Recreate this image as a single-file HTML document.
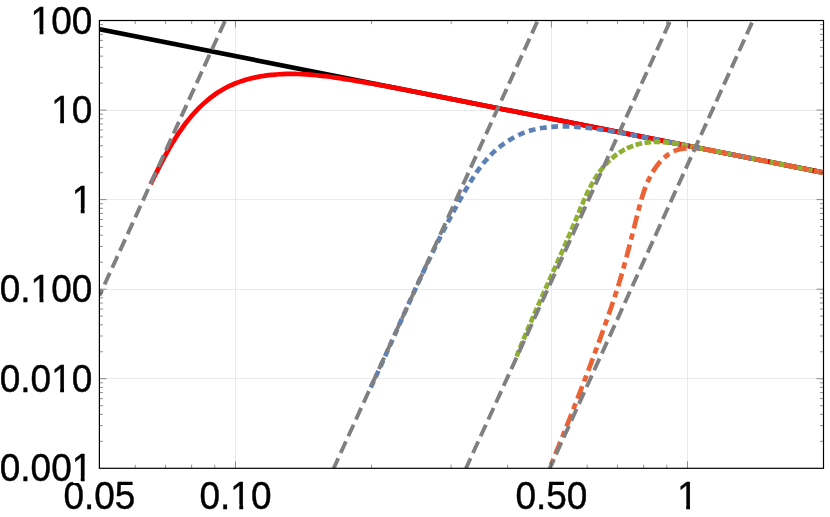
<!DOCTYPE html>
<html><head><meta charset="utf-8"><title>plot</title>
<style>html,body{margin:0;padding:0;background:#fff;overflow:hidden}body{width:830px;height:517px;position:relative;font-family:"Liberation Sans",sans-serif}</style>
</head><body>
<svg width="830" height="517" viewBox="0 0 830 517" style="position:absolute;left:0;top:0;will-change:transform">
<rect width="830" height="517" fill="#fff"/>
<defs><clipPath id="c"><rect x="99.40" y="20.50" width="724.10" height="447.80"/></clipPath></defs>
<line x1="235.50" y1="20.50" x2="235.50" y2="468.30" stroke="#eaeaea" stroke-width="1"/>
<line x1="551.50" y1="20.50" x2="551.50" y2="468.30" stroke="#eaeaea" stroke-width="1"/>
<line x1="687.50" y1="20.50" x2="687.50" y2="468.30" stroke="#eaeaea" stroke-width="1"/>
<line x1="99.40" y1="110.50" x2="823.50" y2="110.50" stroke="#eaeaea" stroke-width="1"/>
<line x1="99.40" y1="199.50" x2="823.50" y2="199.50" stroke="#eaeaea" stroke-width="1"/>
<line x1="99.40" y1="289.50" x2="823.50" y2="289.50" stroke="#eaeaea" stroke-width="1"/>
<line x1="99.40" y1="378.50" x2="823.50" y2="378.50" stroke="#eaeaea" stroke-width="1"/>
<g clip-path="url(#c)" fill="none" stroke-linejoin="round">
<line x1="96.40" y1="28.58" x2="826.50" y2="173.25" stroke="#000" stroke-width="4.7"/>
<path d="M150.61 184.10 C150.89 183.53 151.73 181.84 152.30 180.70 C152.86 179.57 153.43 178.42 154.00 177.27 C154.57 176.13 155.15 174.97 155.73 173.82 C156.31 172.66 156.90 171.50 157.48 170.34 C158.07 169.18 158.67 168.01 159.27 166.84 C159.87 165.67 160.47 164.50 161.08 163.33 C161.69 162.16 162.31 160.99 162.93 159.82 C163.55 158.65 164.18 157.47 164.81 156.30 C165.45 155.13 166.09 153.96 166.74 152.79 C167.39 151.62 168.05 150.45 168.71 149.29 C169.38 148.12 170.05 146.96 170.73 145.80 C171.41 144.64 172.10 143.49 172.80 142.34 C173.50 141.19 174.20 140.04 174.92 138.90 C175.64 137.76 176.36 136.62 177.10 135.49 C177.83 134.36 178.58 133.24 179.34 132.12 C180.09 131.01 180.86 129.90 181.64 128.80 C182.42 127.70 183.21 126.60 184.01 125.52 C184.81 124.44 185.62 123.36 186.45 122.30 C187.27 121.23 188.11 120.18 188.96 119.13 C189.81 118.09 190.67 117.06 191.54 116.03 C192.42 115.01 193.31 114.00 194.21 113.00 C195.11 112.01 196.03 111.02 196.96 110.05 C197.89 109.08 198.83 108.12 199.79 107.18 C200.75 106.24 201.73 105.31 202.71 104.40 C203.70 103.48 204.70 102.59 205.72 101.71 C206.73 100.83 207.76 99.97 208.80 99.12 C209.85 98.28 210.90 97.45 211.97 96.65 C213.04 95.84 214.12 95.06 215.22 94.29 C216.31 93.53 217.42 92.78 218.54 92.06 C219.67 91.34 220.80 90.64 221.95 89.97 C223.09 89.29 224.25 88.64 225.42 88.01 C226.59 87.38 227.78 86.78 228.97 86.20 C230.17 85.62 231.38 85.07 232.59 84.54 C233.81 84.01 235.03 83.51 236.27 83.03 C237.51 82.54 238.75 82.08 240.00 81.65 C241.26 81.21 242.52 80.79 243.78 80.40 C245.05 80.00 246.32 79.63 247.60 79.28 C248.88 78.93 250.17 78.59 251.46 78.28 C252.74 77.97 254.04 77.67 255.33 77.40 C256.63 77.12 257.93 76.87 259.23 76.63 C260.53 76.39 261.84 76.17 263.14 75.96 C264.44 75.76 265.75 75.57 267.05 75.40 C268.36 75.22 269.66 75.07 270.97 74.93 C272.27 74.79 273.58 74.66 274.88 74.55 C276.19 74.44 277.49 74.35 278.80 74.26 C280.10 74.18 281.41 74.11 282.71 74.06 C284.02 74.00 285.32 73.96 286.63 73.94 C287.94 73.91 289.24 73.89 290.55 73.89 C291.85 73.88 293.16 73.89 294.46 73.91 C295.77 73.93 297.07 73.97 298.38 74.01 C299.69 74.05 300.99 74.10 302.30 74.17 C303.60 74.23 304.91 74.31 306.21 74.39 C307.52 74.47 308.83 74.57 310.13 74.67 C311.44 74.77 312.74 74.88 314.05 75.00 C315.36 75.12 316.66 75.24 317.97 75.38 C319.27 75.51 320.58 75.66 321.89 75.81 C323.19 75.95 324.50 76.11 325.80 76.27 C327.11 76.44 328.42 76.61 329.72 76.78 C331.03 76.95 332.33 77.14 333.64 77.32 C334.95 77.51 336.25 77.70 337.56 77.89 C338.86 78.09 340.17 78.29 341.48 78.49 C342.78 78.69 344.09 78.90 345.39 79.11 C346.70 79.32 348.01 79.53 349.31 79.75 C350.62 79.96 351.92 80.18 353.23 80.40 C354.54 80.62 355.84 80.84 357.15 81.06 C358.45 81.29 359.76 81.51 361.06 81.74 C362.37 81.96 363.68 82.19 364.98 82.42 C366.29 82.65 367.59 82.88 368.90 83.11 C370.20 83.34 371.51 83.57 372.81 83.81 C374.12 84.04 375.42 84.27 376.73 84.51 C378.04 84.75 379.34 84.98 380.65 85.22 C381.95 85.46 383.26 85.70 384.56 85.94 C385.87 86.18 387.17 86.42 388.47 86.67 C389.78 86.91 391.08 87.15 392.39 87.40 C393.69 87.64 395.00 87.89 396.30 88.13 C397.61 88.38 398.91 88.63 400.22 88.88 C401.52 89.12 402.82 89.37 404.13 89.62 C405.43 89.87 406.74 90.13 408.04 90.38 C409.34 90.62 410.65 90.86 411.95 91.11 C413.25 91.36 414.56 91.63 415.86 91.89 C417.16 92.14 418.47 92.40 419.77 92.66 C421.07 92.92 422.38 93.18 423.68 93.44 C424.98 93.69 426.28 93.95 427.59 94.21 C428.89 94.47 430.19 94.73 431.49 94.98 C432.80 95.24 434.10 95.50 435.40 95.76 C436.70 96.02 438.00 96.27 439.31 96.53 C440.61 96.79 441.91 97.05 443.21 97.31 C444.51 97.56 383.23 85.42 447.11 98.08 C511.00 110.74 763.27 160.72 826.50 173.25" stroke="#ff0000" stroke-width="4.7"/>
<path d="M370.80 387.40 C371.09 386.79 371.94 384.95 372.51 383.73 C373.08 382.51 373.65 381.29 374.21 380.07 C374.78 378.84 375.35 377.62 375.91 376.40 C376.47 375.18 377.03 373.96 377.59 372.74 C378.15 371.52 378.71 370.30 379.27 369.08 C379.83 367.86 380.38 366.64 380.94 365.42 C381.49 364.20 382.05 362.99 382.60 361.77 C383.15 360.55 383.70 359.33 384.25 358.11 C384.81 356.90 385.36 355.68 385.90 354.46 C386.45 353.25 387.00 352.03 387.55 350.82 C388.10 349.60 388.64 348.39 389.19 347.17 C389.73 345.96 390.28 344.74 390.82 343.53 C391.37 342.32 391.91 341.10 392.46 339.89 C393.00 338.68 393.54 337.46 394.09 336.25 C394.63 335.04 395.17 333.83 395.71 332.62 C396.25 331.41 396.80 330.20 397.34 328.98 C397.88 327.77 398.42 326.56 398.96 325.35 C399.50 324.15 400.05 322.94 400.59 321.73 C401.13 320.52 401.67 319.31 402.21 318.10 C402.75 316.90 403.29 315.69 403.84 314.48 C404.38 313.27 404.92 312.07 405.46 310.86 C406.00 309.66 406.55 308.45 407.09 307.25 C407.63 306.04 408.18 304.84 408.72 303.63 C409.26 302.43 409.81 301.22 410.35 300.02 C410.90 298.82 411.45 297.62 411.99 296.41 C412.54 295.21 413.09 294.01 413.63 292.81 C414.18 291.61 414.73 290.41 415.28 289.21 C415.83 288.01 416.38 286.81 416.93 285.61 C417.48 284.41 418.04 283.21 418.59 282.01 C419.14 280.81 419.70 279.61 420.26 278.42 C420.81 277.22 421.37 276.02 421.93 274.82 C422.49 273.63 423.05 272.43 423.61 271.24 C424.17 270.04 424.73 268.85 425.30 267.65 C425.86 266.46 426.43 265.26 426.99 264.07 C427.56 262.88 428.13 261.68 428.70 260.49 C429.27 259.30 429.84 258.11 430.42 256.92 C430.99 255.72 431.57 254.53 432.15 253.34 C432.73 252.15 433.30 250.96 433.89 249.77 C434.47 248.58 435.05 247.39 435.64 246.21 C436.22 245.02 436.81 243.83 437.40 242.64 C437.99 241.45 438.59 240.27 439.18 239.08 C439.78 237.90 440.37 236.71 440.97 235.52 C441.57 234.34 442.17 233.15 442.78 231.97 C443.38 230.79 443.99 229.60 444.60 228.42 C445.21 227.24 445.82 226.05 446.43 224.87 C447.05 223.69 447.67 222.51 448.29 221.33 C448.91 220.15 449.53 218.97 450.16 217.79 C450.78 216.61 451.41 215.43 452.04 214.25 C452.67 213.07 453.31 211.89 453.95 210.71 C454.59 209.54 455.23 208.36 455.87 207.18 C456.51 206.01 457.16 204.83 457.81 203.65 C458.46 202.48 459.12 201.30 459.77 200.13 C460.43 198.96 461.09 197.78 461.76 196.61 C462.42 195.44 463.09 194.26 463.76 193.09 C464.43 191.92 465.11 190.75 465.79 189.58 C466.47 188.42 467.16 187.25 467.85 186.09 C468.55 184.93 469.24 183.77 469.95 182.62 C470.66 181.47 471.38 180.33 472.10 179.19 C472.83 178.05 473.56 176.92 474.30 175.80 C475.05 174.68 475.80 173.56 476.57 172.46 C477.33 171.35 478.11 170.26 478.90 169.17 C479.69 168.09 480.49 167.01 481.30 165.95 C482.12 164.89 482.95 163.84 483.79 162.81 C484.64 161.77 485.49 160.75 486.37 159.75 C487.24 158.74 488.13 157.75 489.04 156.77 C489.95 155.80 490.87 154.84 491.82 153.90 C492.76 152.96 493.72 152.04 494.70 151.14 C495.69 150.23 496.69 149.35 497.71 148.49 C498.73 147.62 499.77 146.78 500.82 145.96 C501.88 145.14 502.95 144.34 504.04 143.56 C505.13 142.79 506.23 142.03 507.35 141.31 C508.47 140.58 509.60 139.88 510.74 139.20 C511.89 138.52 513.04 137.87 514.21 137.25 C515.37 136.62 516.55 136.03 517.73 135.46 C518.92 134.89 520.11 134.35 521.31 133.85 C522.51 133.34 523.72 132.86 524.93 132.41 C526.15 131.96 527.37 131.54 528.59 131.15 C529.82 130.76 531.05 130.40 532.29 130.06 C533.53 129.72 534.77 129.41 536.02 129.13 C537.27 128.84 538.52 128.58 539.78 128.35 C541.04 128.11 542.31 127.90 543.57 127.71 C544.84 127.52 546.12 127.35 547.40 127.21 C548.67 127.06 549.96 126.94 551.24 126.83 C552.53 126.73 553.82 126.64 555.12 126.57 C556.41 126.51 557.71 126.46 559.01 126.43 C560.31 126.39 561.62 126.38 562.93 126.38 C564.24 126.38 565.55 126.40 566.86 126.43 C568.18 126.46 569.50 126.50 570.82 126.56 C572.14 126.61 573.46 126.69 574.79 126.77 C576.11 126.85 577.44 126.94 578.77 127.04 C580.10 127.15 581.43 127.26 582.76 127.38 C584.09 127.50 585.43 127.64 586.76 127.78 C588.10 127.92 589.43 128.07 590.77 128.22 C592.11 128.38 593.45 128.55 594.79 128.72 C596.13 128.89 597.47 129.07 598.81 129.26 C600.15 129.45 601.49 129.64 602.83 129.84 C604.17 130.04 605.51 130.25 606.85 130.46 C608.19 130.67 609.53 130.89 610.86 131.11 C612.20 131.33 613.54 131.56 614.88 131.79 C616.22 132.02 617.55 132.25 618.89 132.48 C620.22 132.72 621.56 132.96 622.89 133.20 C624.22 133.44 625.55 133.68 626.88 133.92 C628.21 134.16 629.54 134.41 630.86 134.65 C632.19 134.90 633.51 135.14 634.83 135.39 C636.15 135.64 637.47 135.89 638.79 136.14 C640.11 136.38 641.43 136.64 642.74 136.89 C644.06 137.13 645.38 137.37 646.69 137.62 C648.00 137.88 649.31 138.14 650.63 138.40 C651.94 138.66 653.25 138.92 654.56 139.18 C655.87 139.44 657.17 139.70 658.48 139.96 C659.79 140.22 661.10 140.48 662.40 140.74 C663.71 141.00 665.01 141.26 666.32 141.51 C667.62 141.77 668.93 142.03 670.23 142.29 C671.53 142.55 672.84 142.81 674.14 143.06 C675.44 143.32 676.74 143.58 678.04 143.84 C679.35 144.10 657.21 139.71 681.95 144.61 C706.69 149.51 802.41 168.48 826.50 173.25" stroke="#5e81b5" stroke-width="4.7" stroke-dasharray="6.8 4.6"/>
<path d="M516.60 356.50 C516.85 355.87 517.60 353.98 518.11 352.72 C518.61 351.46 519.11 350.21 519.62 348.95 C520.13 347.70 520.63 346.45 521.14 345.21 C521.65 343.96 522.16 342.72 522.67 341.48 C523.19 340.24 523.70 339.00 524.22 337.76 C524.73 336.53 525.25 335.29 525.76 334.06 C526.28 332.83 526.80 331.60 527.32 330.37 C527.84 329.15 528.36 327.92 528.88 326.70 C529.41 325.47 529.93 324.25 530.45 323.03 C530.98 321.81 531.50 320.60 532.03 319.38 C532.56 318.16 533.08 316.95 533.61 315.74 C534.14 314.52 534.67 313.31 535.20 312.10 C535.73 310.89 536.26 309.68 536.79 308.47 C537.32 307.27 537.86 306.06 538.39 304.85 C538.92 303.65 539.46 302.44 539.99 301.24 C540.52 300.03 541.06 298.83 541.59 297.63 C542.13 296.42 542.66 295.22 543.20 294.02 C543.74 292.82 544.27 291.62 544.81 290.42 C545.35 289.21 545.88 288.01 546.42 286.81 C546.96 285.61 547.50 284.41 548.03 283.21 C548.57 282.01 549.11 280.81 549.65 279.61 C550.19 278.41 550.72 277.21 551.26 276.01 C551.80 274.80 552.34 273.60 552.88 272.40 C553.41 271.20 553.95 270.00 554.49 268.79 C555.03 267.59 555.57 266.39 556.10 265.18 C556.64 263.98 557.18 262.77 557.72 261.56 C558.25 260.36 558.79 259.15 559.33 257.94 C559.86 256.73 560.40 255.52 560.94 254.31 C561.47 253.10 562.01 251.88 562.54 250.67 C563.08 249.46 563.61 248.24 564.15 247.02 C564.68 245.80 565.21 244.59 565.75 243.36 C566.28 242.14 566.81 240.92 567.34 239.70 C567.87 238.47 568.40 237.25 568.93 236.02 C569.46 234.79 569.99 233.56 570.52 232.32 C571.05 231.09 571.57 229.85 572.10 228.62 C572.62 227.38 573.15 226.14 573.67 224.90 C574.20 223.65 574.72 222.41 575.24 221.16 C575.76 219.91 576.28 218.66 576.80 217.40 C577.32 216.15 577.84 214.89 578.36 213.64 C578.88 212.38 579.40 211.12 579.92 209.86 C580.45 208.60 580.97 207.35 581.50 206.09 C582.03 204.84 582.57 203.58 583.11 202.33 C583.65 201.09 584.19 199.84 584.75 198.60 C585.30 197.36 585.86 196.13 586.43 194.90 C587.00 193.67 587.58 192.45 588.17 191.24 C588.77 190.03 589.37 188.83 589.98 187.64 C590.60 186.44 591.22 185.26 591.87 184.09 C592.51 182.92 593.17 181.76 593.84 180.62 C594.51 179.47 595.20 178.34 595.91 177.23 C596.62 176.11 597.34 175.01 598.08 173.93 C598.83 172.84 599.59 171.77 600.38 170.72 C601.16 169.68 601.97 168.64 602.80 167.63 C603.63 166.62 604.48 165.63 605.36 164.66 C606.23 163.69 607.13 162.74 608.06 161.82 C608.99 160.89 609.94 159.99 610.92 159.11 C611.90 158.24 612.91 157.39 613.93 156.56 C614.96 155.74 616.01 154.94 617.09 154.18 C618.16 153.41 619.26 152.68 620.37 151.97 C621.49 151.27 622.63 150.59 623.78 149.96 C624.94 149.32 626.12 148.72 627.32 148.15 C628.51 147.58 629.73 147.05 630.96 146.56 C632.18 146.07 633.43 145.61 634.68 145.20 C635.94 144.79 637.21 144.42 638.48 144.09 C639.75 143.76 641.03 143.48 642.32 143.23 C643.61 142.98 644.90 142.78 646.20 142.60 C647.50 142.43 648.81 142.30 650.12 142.20 C651.42 142.09 652.74 142.03 654.05 141.99 C655.37 141.95 656.68 141.94 658.00 141.96 C659.32 141.97 660.64 142.02 661.96 142.09 C663.28 142.16 664.60 142.25 665.92 142.36 C667.24 142.47 668.55 142.61 669.87 142.76 C671.18 142.91 672.50 143.08 673.81 143.26 C675.13 143.44 676.44 143.64 677.75 143.86 C679.07 144.07 680.38 144.31 681.69 144.56 C683.00 144.81 684.31 145.08 685.62 145.34 C686.93 145.60 688.24 145.86 689.54 146.12 C690.85 146.38 692.16 146.63 693.47 146.89 C694.77 147.15 696.08 147.41 697.38 147.67 C698.69 147.93 700.00 148.19 701.30 148.45 C702.61 148.70 703.91 148.96 705.21 149.22 C706.52 149.48 707.82 149.74 709.13 150.00 C710.43 150.25 711.73 150.51 713.04 150.77 C714.34 151.03 698.04 147.80 716.95 151.55 C735.86 155.29 808.24 169.64 826.50 173.25" stroke="#8fb032" stroke-width="4.7" stroke-dasharray="6.7 2.5"/>
<path d="M549.00 470.00 C549.25 469.39 549.99 467.55 550.49 466.32 C550.99 465.10 551.48 463.87 551.98 462.65 C552.48 461.42 552.97 460.20 553.47 458.97 C553.97 457.74 554.46 456.51 554.96 455.29 C555.45 454.06 555.95 452.83 556.44 451.60 C556.94 450.38 557.43 449.15 557.93 447.92 C558.42 446.69 558.92 445.46 559.41 444.23 C559.90 443.00 560.40 441.77 560.89 440.54 C561.38 439.31 561.88 438.08 562.37 436.85 C562.86 435.62 563.36 434.39 563.85 433.16 C564.34 431.93 564.83 430.69 565.32 429.46 C565.81 428.23 566.30 427.00 566.79 425.76 C567.28 424.53 567.77 423.30 568.26 422.06 C568.75 420.83 569.24 419.60 569.73 418.36 C570.22 417.13 570.70 415.89 571.19 414.66 C571.68 413.43 572.16 412.19 572.65 410.95 C573.14 409.72 573.62 408.48 574.11 407.25 C574.59 406.01 575.07 404.78 575.56 403.54 C576.04 402.30 576.52 401.07 577.01 399.83 C577.49 398.59 577.97 397.35 578.45 396.12 C578.93 394.88 579.41 393.64 579.89 392.40 C580.37 391.16 580.85 389.92 581.33 388.68 C581.81 387.45 582.28 386.21 582.76 384.97 C583.24 383.73 583.71 382.49 584.19 381.25 C584.66 380.01 585.14 378.77 585.61 377.53 C586.08 376.28 586.56 375.04 587.03 373.80 C587.50 372.56 587.97 371.32 588.44 370.08 C588.91 368.83 589.38 367.59 589.85 366.35 C590.32 365.11 590.79 363.86 591.25 362.62 C591.72 361.38 592.18 360.14 592.65 358.89 C593.11 357.65 593.58 356.40 594.04 355.16 C594.50 353.92 594.96 352.67 595.42 351.43 C595.88 350.18 596.34 348.94 596.80 347.69 C597.26 346.45 597.72 345.20 598.18 343.96 C598.63 342.71 599.09 341.46 599.54 340.22 C600.00 338.97 600.45 337.72 600.90 336.48 C601.35 335.23 601.81 333.98 602.25 332.74 C602.70 331.49 603.15 330.24 603.60 328.99 C604.05 327.75 604.50 326.50 604.94 325.25 C605.39 324.00 605.83 322.75 606.27 321.50 C606.71 320.25 607.15 319.01 607.59 317.76 C608.03 316.51 608.47 315.26 608.90 314.01 C609.34 312.76 609.77 311.50 610.20 310.25 C610.63 309.00 611.06 307.75 611.49 306.50 C611.91 305.25 612.34 303.99 612.76 302.74 C613.18 301.49 613.60 300.23 614.01 298.98 C614.43 297.72 614.84 296.47 615.25 295.21 C615.66 293.96 616.06 292.70 616.47 291.44 C616.87 290.18 617.27 288.93 617.66 287.67 C618.06 286.41 618.45 285.15 618.84 283.89 C619.23 282.63 619.61 281.37 619.99 280.11 C620.37 278.84 620.74 277.58 621.12 276.32 C621.49 275.05 621.86 273.79 622.22 272.52 C622.58 271.26 622.94 269.99 623.30 268.73 C623.66 267.46 624.01 266.19 624.36 264.92 C624.72 263.65 625.06 262.38 625.41 261.11 C625.75 259.84 626.10 258.56 626.44 257.29 C626.78 256.02 627.12 254.74 627.45 253.47 C627.79 252.19 628.12 250.91 628.46 249.63 C628.79 248.35 629.12 247.07 629.45 245.79 C629.78 244.51 630.11 243.23 630.44 241.95 C630.77 240.66 631.09 239.38 631.42 238.09 C631.75 236.81 632.07 235.52 632.40 234.23 C632.73 232.94 633.05 231.65 633.38 230.36 C633.70 229.06 634.03 227.77 634.36 226.48 C634.68 225.18 635.01 223.88 635.34 222.59 C635.66 221.29 635.99 219.99 636.32 218.69 C636.65 217.39 636.98 216.08 637.32 214.78 C637.65 213.47 637.98 212.17 638.32 210.86 C638.65 209.55 638.99 208.24 639.34 206.94 C639.68 205.63 640.03 204.32 640.39 203.02 C640.75 201.71 641.12 200.41 641.50 199.11 C641.88 197.81 642.27 196.52 642.68 195.23 C643.08 193.94 643.50 192.66 643.94 191.39 C644.38 190.11 644.83 188.84 645.31 187.58 C645.78 186.33 646.27 185.07 646.79 183.84 C647.31 182.60 647.84 181.37 648.41 180.15 C648.98 178.94 649.56 177.73 650.18 176.54 C650.80 175.35 651.45 174.18 652.13 173.02 C652.81 171.86 653.51 170.71 654.26 169.58 C655.00 168.46 655.78 167.34 656.59 166.25 C657.41 165.16 658.26 164.09 659.14 163.05 C660.03 162.01 660.95 160.99 661.90 160.02 C662.85 159.04 663.83 158.10 664.83 157.22 C665.84 156.34 666.88 155.50 667.93 154.73 C668.99 153.96 670.08 153.25 671.18 152.61 C672.28 151.97 673.41 151.40 674.55 150.92 C675.69 150.43 676.85 150.04 678.03 149.70 C679.20 149.36 680.39 149.11 681.59 148.89 C682.79 148.68 684.00 148.52 685.22 148.40 C686.44 148.28 687.67 148.20 688.91 148.15 C690.14 148.11 691.39 148.10 692.64 148.13 C693.89 148.15 695.15 148.21 696.41 148.29 C697.68 148.37 698.95 148.49 700.22 148.62 C701.50 148.76 702.78 148.91 704.07 149.10 C705.35 149.29 706.64 149.52 707.93 149.76 C709.23 150.00 710.52 150.27 711.82 150.53 C713.12 150.79 714.42 151.05 715.73 151.30 C717.03 151.56 718.33 151.82 719.64 152.08 C720.94 152.34 722.25 152.60 723.56 152.86 C724.86 153.11 726.17 153.37 727.47 153.63 C728.78 153.89 730.08 154.15 731.38 154.41 C732.69 154.66 733.99 154.92 735.29 155.18 C736.59 155.44 737.89 155.70 739.19 155.95 C740.49 156.21 728.54 153.84 743.09 156.73 C757.65 159.61 812.60 170.50 826.50 173.25" stroke="#eb6235" stroke-width="4.7" stroke-dasharray="6.4 5.1 13.3 5.1" stroke-dashoffset="24.4"/>
<line x1="99.40" y1="295.80" x2="225.20" y2="20.50" stroke="#808080" stroke-width="3.9" stroke-dasharray="12.7 5.75" stroke-dashoffset="6.00"/>
<line x1="333.70" y1="468.30" x2="537.80" y2="20.50" stroke="#808080" stroke-width="3.9" stroke-dasharray="12.7 5.75" stroke-dashoffset="1.70"/>
<line x1="466.00" y1="468.30" x2="670.40" y2="20.50" stroke="#808080" stroke-width="3.9" stroke-dasharray="12.7 5.75" stroke-dashoffset="1.70"/>
<line x1="549.70" y1="468.30" x2="753.00" y2="20.50" stroke="#808080" stroke-width="3.9" stroke-dasharray="12.7 5.75" stroke-dashoffset="3.00"/>
</g>
<line x1="235.46" y1="468.30" x2="235.46" y2="461.30" stroke="#444" stroke-width="0.6"/>
<line x1="235.46" y1="20.50" x2="235.46" y2="27.50" stroke="#444" stroke-width="0.6"/>
<line x1="551.38" y1="468.30" x2="551.38" y2="461.30" stroke="#444" stroke-width="0.6"/>
<line x1="551.38" y1="20.50" x2="551.38" y2="27.50" stroke="#444" stroke-width="0.6"/>
<line x1="687.44" y1="468.30" x2="687.44" y2="461.30" stroke="#444" stroke-width="0.6"/>
<line x1="687.44" y1="20.50" x2="687.44" y2="27.50" stroke="#444" stroke-width="0.6"/>
<line x1="135.19" y1="468.30" x2="135.19" y2="464.70" stroke="#444" stroke-width="0.6"/>
<line x1="135.19" y1="20.50" x2="135.19" y2="24.10" stroke="#444" stroke-width="0.6"/>
<line x1="165.45" y1="468.30" x2="165.45" y2="464.70" stroke="#444" stroke-width="0.6"/>
<line x1="165.45" y1="20.50" x2="165.45" y2="24.10" stroke="#444" stroke-width="0.6"/>
<line x1="191.66" y1="468.30" x2="191.66" y2="464.70" stroke="#444" stroke-width="0.6"/>
<line x1="191.66" y1="20.50" x2="191.66" y2="24.10" stroke="#444" stroke-width="0.6"/>
<line x1="214.78" y1="468.30" x2="214.78" y2="464.70" stroke="#444" stroke-width="0.6"/>
<line x1="214.78" y1="20.50" x2="214.78" y2="24.10" stroke="#444" stroke-width="0.6"/>
<line x1="371.52" y1="468.30" x2="371.52" y2="464.70" stroke="#444" stroke-width="0.6"/>
<line x1="371.52" y1="20.50" x2="371.52" y2="24.10" stroke="#444" stroke-width="0.6"/>
<line x1="451.11" y1="468.30" x2="451.11" y2="464.70" stroke="#444" stroke-width="0.6"/>
<line x1="451.11" y1="20.50" x2="451.11" y2="24.10" stroke="#444" stroke-width="0.6"/>
<line x1="507.58" y1="468.30" x2="507.58" y2="464.70" stroke="#444" stroke-width="0.6"/>
<line x1="507.58" y1="20.50" x2="507.58" y2="24.10" stroke="#444" stroke-width="0.6"/>
<line x1="587.17" y1="468.30" x2="587.17" y2="464.70" stroke="#444" stroke-width="0.6"/>
<line x1="587.17" y1="20.50" x2="587.17" y2="24.10" stroke="#444" stroke-width="0.6"/>
<line x1="617.43" y1="468.30" x2="617.43" y2="464.70" stroke="#444" stroke-width="0.6"/>
<line x1="617.43" y1="20.50" x2="617.43" y2="24.10" stroke="#444" stroke-width="0.6"/>
<line x1="643.64" y1="468.30" x2="643.64" y2="464.70" stroke="#444" stroke-width="0.6"/>
<line x1="643.64" y1="20.50" x2="643.64" y2="24.10" stroke="#444" stroke-width="0.6"/>
<line x1="666.76" y1="468.30" x2="666.76" y2="464.70" stroke="#444" stroke-width="0.6"/>
<line x1="666.76" y1="20.50" x2="666.76" y2="24.10" stroke="#444" stroke-width="0.6"/>
<line x1="99.40" y1="441.34" x2="103.00" y2="441.34" stroke="#444" stroke-width="0.6"/>
<line x1="823.50" y1="441.34" x2="819.90" y2="441.34" stroke="#444" stroke-width="0.6"/>
<line x1="99.40" y1="425.57" x2="103.00" y2="425.57" stroke="#444" stroke-width="0.6"/>
<line x1="823.50" y1="425.57" x2="819.90" y2="425.57" stroke="#444" stroke-width="0.6"/>
<line x1="99.40" y1="414.38" x2="103.00" y2="414.38" stroke="#444" stroke-width="0.6"/>
<line x1="823.50" y1="414.38" x2="819.90" y2="414.38" stroke="#444" stroke-width="0.6"/>
<line x1="99.40" y1="405.70" x2="103.00" y2="405.70" stroke="#444" stroke-width="0.6"/>
<line x1="823.50" y1="405.70" x2="819.90" y2="405.70" stroke="#444" stroke-width="0.6"/>
<line x1="99.40" y1="398.61" x2="103.00" y2="398.61" stroke="#444" stroke-width="0.6"/>
<line x1="823.50" y1="398.61" x2="819.90" y2="398.61" stroke="#444" stroke-width="0.6"/>
<line x1="99.40" y1="392.61" x2="103.00" y2="392.61" stroke="#444" stroke-width="0.6"/>
<line x1="823.50" y1="392.61" x2="819.90" y2="392.61" stroke="#444" stroke-width="0.6"/>
<line x1="99.40" y1="387.42" x2="103.00" y2="387.42" stroke="#444" stroke-width="0.6"/>
<line x1="823.50" y1="387.42" x2="819.90" y2="387.42" stroke="#444" stroke-width="0.6"/>
<line x1="99.40" y1="382.84" x2="103.00" y2="382.84" stroke="#444" stroke-width="0.6"/>
<line x1="823.50" y1="382.84" x2="819.90" y2="382.84" stroke="#444" stroke-width="0.6"/>
<line x1="99.40" y1="378.74" x2="106.40" y2="378.74" stroke="#444" stroke-width="0.6"/>
<line x1="823.50" y1="378.74" x2="816.50" y2="378.74" stroke="#444" stroke-width="0.6"/>
<line x1="99.40" y1="351.78" x2="103.00" y2="351.78" stroke="#444" stroke-width="0.6"/>
<line x1="823.50" y1="351.78" x2="819.90" y2="351.78" stroke="#444" stroke-width="0.6"/>
<line x1="99.40" y1="336.01" x2="103.00" y2="336.01" stroke="#444" stroke-width="0.6"/>
<line x1="823.50" y1="336.01" x2="819.90" y2="336.01" stroke="#444" stroke-width="0.6"/>
<line x1="99.40" y1="324.82" x2="103.00" y2="324.82" stroke="#444" stroke-width="0.6"/>
<line x1="823.50" y1="324.82" x2="819.90" y2="324.82" stroke="#444" stroke-width="0.6"/>
<line x1="99.40" y1="316.14" x2="103.00" y2="316.14" stroke="#444" stroke-width="0.6"/>
<line x1="823.50" y1="316.14" x2="819.90" y2="316.14" stroke="#444" stroke-width="0.6"/>
<line x1="99.40" y1="309.05" x2="103.00" y2="309.05" stroke="#444" stroke-width="0.6"/>
<line x1="823.50" y1="309.05" x2="819.90" y2="309.05" stroke="#444" stroke-width="0.6"/>
<line x1="99.40" y1="303.05" x2="103.00" y2="303.05" stroke="#444" stroke-width="0.6"/>
<line x1="823.50" y1="303.05" x2="819.90" y2="303.05" stroke="#444" stroke-width="0.6"/>
<line x1="99.40" y1="297.86" x2="103.00" y2="297.86" stroke="#444" stroke-width="0.6"/>
<line x1="823.50" y1="297.86" x2="819.90" y2="297.86" stroke="#444" stroke-width="0.6"/>
<line x1="99.40" y1="293.28" x2="103.00" y2="293.28" stroke="#444" stroke-width="0.6"/>
<line x1="823.50" y1="293.28" x2="819.90" y2="293.28" stroke="#444" stroke-width="0.6"/>
<line x1="99.40" y1="289.18" x2="106.40" y2="289.18" stroke="#444" stroke-width="0.6"/>
<line x1="823.50" y1="289.18" x2="816.50" y2="289.18" stroke="#444" stroke-width="0.6"/>
<line x1="99.40" y1="262.22" x2="103.00" y2="262.22" stroke="#444" stroke-width="0.6"/>
<line x1="823.50" y1="262.22" x2="819.90" y2="262.22" stroke="#444" stroke-width="0.6"/>
<line x1="99.40" y1="246.45" x2="103.00" y2="246.45" stroke="#444" stroke-width="0.6"/>
<line x1="823.50" y1="246.45" x2="819.90" y2="246.45" stroke="#444" stroke-width="0.6"/>
<line x1="99.40" y1="235.26" x2="103.00" y2="235.26" stroke="#444" stroke-width="0.6"/>
<line x1="823.50" y1="235.26" x2="819.90" y2="235.26" stroke="#444" stroke-width="0.6"/>
<line x1="99.40" y1="226.58" x2="103.00" y2="226.58" stroke="#444" stroke-width="0.6"/>
<line x1="823.50" y1="226.58" x2="819.90" y2="226.58" stroke="#444" stroke-width="0.6"/>
<line x1="99.40" y1="219.49" x2="103.00" y2="219.49" stroke="#444" stroke-width="0.6"/>
<line x1="823.50" y1="219.49" x2="819.90" y2="219.49" stroke="#444" stroke-width="0.6"/>
<line x1="99.40" y1="213.49" x2="103.00" y2="213.49" stroke="#444" stroke-width="0.6"/>
<line x1="823.50" y1="213.49" x2="819.90" y2="213.49" stroke="#444" stroke-width="0.6"/>
<line x1="99.40" y1="208.30" x2="103.00" y2="208.30" stroke="#444" stroke-width="0.6"/>
<line x1="823.50" y1="208.30" x2="819.90" y2="208.30" stroke="#444" stroke-width="0.6"/>
<line x1="99.40" y1="203.72" x2="103.00" y2="203.72" stroke="#444" stroke-width="0.6"/>
<line x1="823.50" y1="203.72" x2="819.90" y2="203.72" stroke="#444" stroke-width="0.6"/>
<line x1="99.40" y1="199.62" x2="106.40" y2="199.62" stroke="#444" stroke-width="0.6"/>
<line x1="823.50" y1="199.62" x2="816.50" y2="199.62" stroke="#444" stroke-width="0.6"/>
<line x1="99.40" y1="172.66" x2="103.00" y2="172.66" stroke="#444" stroke-width="0.6"/>
<line x1="823.50" y1="172.66" x2="819.90" y2="172.66" stroke="#444" stroke-width="0.6"/>
<line x1="99.40" y1="156.89" x2="103.00" y2="156.89" stroke="#444" stroke-width="0.6"/>
<line x1="823.50" y1="156.89" x2="819.90" y2="156.89" stroke="#444" stroke-width="0.6"/>
<line x1="99.40" y1="145.70" x2="103.00" y2="145.70" stroke="#444" stroke-width="0.6"/>
<line x1="823.50" y1="145.70" x2="819.90" y2="145.70" stroke="#444" stroke-width="0.6"/>
<line x1="99.40" y1="137.02" x2="103.00" y2="137.02" stroke="#444" stroke-width="0.6"/>
<line x1="823.50" y1="137.02" x2="819.90" y2="137.02" stroke="#444" stroke-width="0.6"/>
<line x1="99.40" y1="129.93" x2="103.00" y2="129.93" stroke="#444" stroke-width="0.6"/>
<line x1="823.50" y1="129.93" x2="819.90" y2="129.93" stroke="#444" stroke-width="0.6"/>
<line x1="99.40" y1="123.93" x2="103.00" y2="123.93" stroke="#444" stroke-width="0.6"/>
<line x1="823.50" y1="123.93" x2="819.90" y2="123.93" stroke="#444" stroke-width="0.6"/>
<line x1="99.40" y1="118.74" x2="103.00" y2="118.74" stroke="#444" stroke-width="0.6"/>
<line x1="823.50" y1="118.74" x2="819.90" y2="118.74" stroke="#444" stroke-width="0.6"/>
<line x1="99.40" y1="114.16" x2="103.00" y2="114.16" stroke="#444" stroke-width="0.6"/>
<line x1="823.50" y1="114.16" x2="819.90" y2="114.16" stroke="#444" stroke-width="0.6"/>
<line x1="99.40" y1="110.06" x2="106.40" y2="110.06" stroke="#444" stroke-width="0.6"/>
<line x1="823.50" y1="110.06" x2="816.50" y2="110.06" stroke="#444" stroke-width="0.6"/>
<line x1="99.40" y1="83.10" x2="103.00" y2="83.10" stroke="#444" stroke-width="0.6"/>
<line x1="823.50" y1="83.10" x2="819.90" y2="83.10" stroke="#444" stroke-width="0.6"/>
<line x1="99.40" y1="67.33" x2="103.00" y2="67.33" stroke="#444" stroke-width="0.6"/>
<line x1="823.50" y1="67.33" x2="819.90" y2="67.33" stroke="#444" stroke-width="0.6"/>
<line x1="99.40" y1="56.14" x2="103.00" y2="56.14" stroke="#444" stroke-width="0.6"/>
<line x1="823.50" y1="56.14" x2="819.90" y2="56.14" stroke="#444" stroke-width="0.6"/>
<line x1="99.40" y1="47.46" x2="103.00" y2="47.46" stroke="#444" stroke-width="0.6"/>
<line x1="823.50" y1="47.46" x2="819.90" y2="47.46" stroke="#444" stroke-width="0.6"/>
<line x1="99.40" y1="40.37" x2="103.00" y2="40.37" stroke="#444" stroke-width="0.6"/>
<line x1="823.50" y1="40.37" x2="819.90" y2="40.37" stroke="#444" stroke-width="0.6"/>
<line x1="99.40" y1="34.37" x2="103.00" y2="34.37" stroke="#444" stroke-width="0.6"/>
<line x1="823.50" y1="34.37" x2="819.90" y2="34.37" stroke="#444" stroke-width="0.6"/>
<line x1="99.40" y1="29.18" x2="103.00" y2="29.18" stroke="#444" stroke-width="0.6"/>
<line x1="823.50" y1="29.18" x2="819.90" y2="29.18" stroke="#444" stroke-width="0.6"/>
<line x1="99.40" y1="24.60" x2="103.00" y2="24.60" stroke="#444" stroke-width="0.6"/>
<line x1="823.50" y1="24.60" x2="819.90" y2="24.60" stroke="#444" stroke-width="0.6"/>
<line x1="99.40" y1="20.50" x2="106.40" y2="20.50" stroke="#444" stroke-width="0.6"/>
<line x1="823.50" y1="20.50" x2="816.50" y2="20.50" stroke="#444" stroke-width="0.6"/>
<rect x="99.40" y="20.50" width="724.10" height="447.80" fill="none" stroke="#000" stroke-width="1.2"/>
<text transform="translate(92.3,33.60) scale(1,1.04)" text-anchor="end" font-family="Liberation Sans, sans-serif" font-size="37" fill="#000" stroke="#000" stroke-width="0.4">100</text>
<text transform="translate(92.3,123.16) scale(1,1.04)" text-anchor="end" font-family="Liberation Sans, sans-serif" font-size="37" fill="#000" stroke="#000" stroke-width="0.4">10</text>
<text transform="translate(92.3,212.72) scale(1,1.04)" text-anchor="end" font-family="Liberation Sans, sans-serif" font-size="37" fill="#000" stroke="#000" stroke-width="0.4">1</text>
<text transform="translate(92.3,302.28) scale(1,1.04)" text-anchor="end" font-family="Liberation Sans, sans-serif" font-size="37" fill="#000" stroke="#000" stroke-width="0.4">0.100</text>
<text transform="translate(92.3,391.84) scale(1,1.04)" text-anchor="end" font-family="Liberation Sans, sans-serif" font-size="37" fill="#000" stroke="#000" stroke-width="0.4">0.010</text>
<text transform="translate(92.3,481.40) scale(1,1.04)" text-anchor="end" font-family="Liberation Sans, sans-serif" font-size="37" fill="#000" stroke="#000" stroke-width="0.4">0.001</text>
<text transform="translate(99.40,508.8) scale(1,1.04)" text-anchor="middle" font-family="Liberation Sans, sans-serif" font-size="37" fill="#000" stroke="#000" stroke-width="0.4">0.05</text>
<text transform="translate(235.46,508.8) scale(1,1.04)" text-anchor="middle" font-family="Liberation Sans, sans-serif" font-size="37" fill="#000" stroke="#000" stroke-width="0.4">0.10</text>
<text transform="translate(551.38,508.8) scale(1,1.04)" text-anchor="middle" font-family="Liberation Sans, sans-serif" font-size="37" fill="#000" stroke="#000" stroke-width="0.4">0.50</text>
<text transform="translate(687.44,508.8) scale(1,1.04)" text-anchor="middle" font-family="Liberation Sans, sans-serif" font-size="37" fill="#000" stroke="#000" stroke-width="0.4">1</text>
<rect x="31.99" y="29.03" width="7.59" height="6.17" fill="#fff"/>
<rect x="43.44" y="29.03" width="7.30" height="6.17" fill="#fff"/>
<rect x="52.56" y="118.59" width="7.59" height="6.17" fill="#fff"/>
<rect x="64.02" y="118.59" width="7.30" height="6.17" fill="#fff"/>
<rect x="73.14" y="208.15" width="7.59" height="6.17" fill="#fff"/>
<rect x="84.60" y="208.15" width="7.30" height="6.17" fill="#fff"/>
<rect x="31.99" y="297.71" width="7.59" height="6.17" fill="#fff"/>
<rect x="43.44" y="297.71" width="7.30" height="6.17" fill="#fff"/>
<rect x="52.56" y="387.27" width="7.59" height="6.17" fill="#fff"/>
<rect x="64.02" y="387.27" width="7.30" height="6.17" fill="#fff"/>
<rect x="73.14" y="476.83" width="7.59" height="6.17" fill="#fff"/>
<rect x="84.60" y="476.83" width="7.30" height="6.17" fill="#fff"/>
<rect x="231.73" y="504.23" width="7.59" height="6.17" fill="#fff"/>
<rect x="243.19" y="504.23" width="7.30" height="6.17" fill="#fff"/>
<rect x="678.57" y="504.23" width="7.59" height="6.17" fill="#fff"/>
<rect x="690.03" y="504.23" width="7.30" height="6.17" fill="#fff"/>
</svg>
</body></html>
